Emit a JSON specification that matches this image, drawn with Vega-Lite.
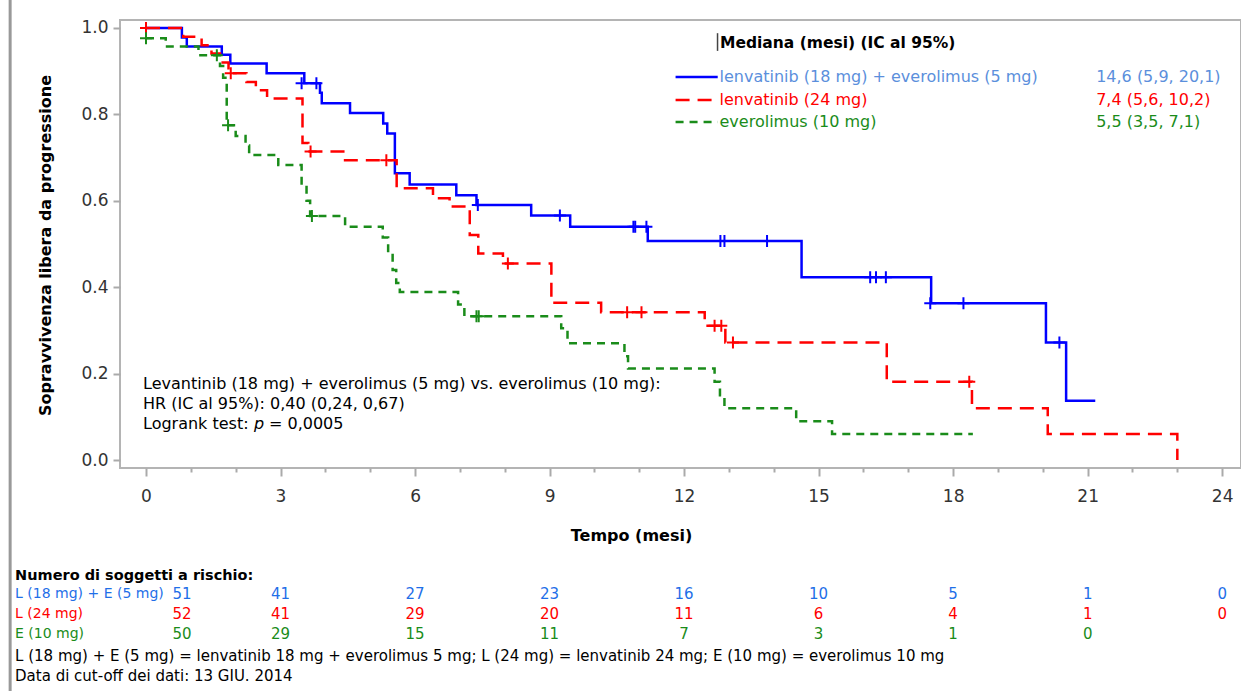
{
  "$schema": "https://vega.github.io/schema/vega-lite/v6.json",
  "width": 1121,
  "height": 448,
  "autosize": {"type": "none"},
  "padding": {"left": 120, "top": 20, "right": 0, "bottom": 223},
  "background": "white",
  "config": {
    "font": "DejaVu Sans",
    "view": {"stroke": "#b4b4b4", "strokeWidth": 2},
    "text": {"font": "DejaVu Sans"}
  },
  "data": {"values": [{}]},
  "datasets": {
    "km": [
      {"arm": "LE", "t": 0, "s": 1.0}, {"arm": "LE", "t": 0.80, "s": 0.978}, {"arm": "LE", "t": 0.91, "s": 0.957},
      {"arm": "LE", "t": 1.69, "s": 0.938}, {"arm": "LE", "t": 1.88, "s": 0.918}, {"arm": "LE", "t": 2.69, "s": 0.895},
      {"arm": "LE", "t": 3.53, "s": 0.872}, {"arm": "LE", "t": 3.88, "s": 0.850}, {"arm": "LE", "t": 3.92, "s": 0.826},
      {"arm": "LE", "t": 4.55, "s": 0.803}, {"arm": "LE", "t": 5.29, "s": 0.779}, {"arm": "LE", "t": 5.38, "s": 0.756},
      {"arm": "LE", "t": 5.55, "s": 0.664}, {"arm": "LE", "t": 5.88, "s": 0.638}, {"arm": "LE", "t": 6.92, "s": 0.613},
      {"arm": "LE", "t": 7.37, "s": 0.590}, {"arm": "LE", "t": 8.59, "s": 0.566}, {"arm": "LE", "t": 9.46, "s": 0.540},
      {"arm": "LE", "t": 11.19, "s": 0.507}, {"arm": "LE", "t": 14.62, "s": 0.423}, {"arm": "LE", "t": 17.51, "s": 0.363},
      {"arm": "LE", "t": 20.07, "s": 0.272}, {"arm": "LE", "t": 20.52, "s": 0.137}, {"arm": "LE", "t": 21.17, "s": 0.137},
      {"arm": "L", "t": 0, "s": 1.0}, {"arm": "L", "t": 0.83, "s": 0.980}, {"arm": "L", "t": 1.24, "s": 0.960},
      {"arm": "L", "t": 1.46, "s": 0.941}, {"arm": "L", "t": 1.65, "s": 0.920}, {"arm": "L", "t": 1.84, "s": 0.895},
      {"arm": "L", "t": 2.24, "s": 0.875}, {"arm": "L", "t": 2.45, "s": 0.856}, {"arm": "L", "t": 2.70, "s": 0.837},
      {"arm": "L", "t": 3.49, "s": 0.734}, {"arm": "L", "t": 3.62, "s": 0.714}, {"arm": "L", "t": 4.40, "s": 0.694},
      {"arm": "L", "t": 5.59, "s": 0.629}, {"arm": "L", "t": 6.40, "s": 0.606}, {"arm": "L", "t": 6.77, "s": 0.587},
      {"arm": "L", "t": 7.22, "s": 0.521}, {"arm": "L", "t": 7.41, "s": 0.478}, {"arm": "L", "t": 7.96, "s": 0.455},
      {"arm": "L", "t": 9.04, "s": 0.364}, {"arm": "L", "t": 10.15, "s": 0.342}, {"arm": "L", "t": 12.46, "s": 0.311},
      {"arm": "L", "t": 12.92, "s": 0.272}, {"arm": "L", "t": 16.52, "s": 0.181}, {"arm": "L", "t": 18.42, "s": 0.120},
      {"arm": "L", "t": 20.11, "s": 0.060}, {"arm": "L", "t": 23.00, "s": 0.0},
      {"arm": "E", "t": 0, "s": 0.976}, {"arm": "E", "t": 0.44, "s": 0.957}, {"arm": "E", "t": 1.17, "s": 0.937},
      {"arm": "E", "t": 1.65, "s": 0.912}, {"arm": "E", "t": 1.72, "s": 0.885}, {"arm": "E", "t": 1.80, "s": 0.775},
      {"arm": "E", "t": 2.00, "s": 0.750}, {"arm": "E", "t": 2.22, "s": 0.728}, {"arm": "E", "t": 2.30, "s": 0.706},
      {"arm": "E", "t": 2.95, "s": 0.683}, {"arm": "E", "t": 3.47, "s": 0.640}, {"arm": "E", "t": 3.58, "s": 0.600},
      {"arm": "E", "t": 3.66, "s": 0.565}, {"arm": "E", "t": 4.44, "s": 0.540}, {"arm": "E", "t": 5.28, "s": 0.515},
      {"arm": "E", "t": 5.40, "s": 0.480}, {"arm": "E", "t": 5.50, "s": 0.440}, {"arm": "E", "t": 5.58, "s": 0.410},
      {"arm": "E", "t": 5.66, "s": 0.389}, {"arm": "E", "t": 6.96, "s": 0.360}, {"arm": "E", "t": 7.10, "s": 0.333},
      {"arm": "E", "t": 9.26, "s": 0.305}, {"arm": "E", "t": 9.40, "s": 0.270}, {"arm": "E", "t": 10.67, "s": 0.240},
      {"arm": "E", "t": 10.75, "s": 0.212}, {"arm": "E", "t": 12.68, "s": 0.181}, {"arm": "E", "t": 12.80, "s": 0.150},
      {"arm": "E", "t": 12.90, "s": 0.120}, {"arm": "E", "t": 14.50, "s": 0.090}, {"arm": "E", "t": 15.30, "s": 0.060},
      {"arm": "E", "t": 18.44, "s": 0.060}
    ],
    "censor": [
      {"arm": "LE", "t": 3.47, "s": 0.872}, {"arm": "LE", "t": 3.80, "s": 0.872}, {"arm": "LE", "t": 7.40, "s": 0.590},
      {"arm": "LE", "t": 9.23, "s": 0.566}, {"arm": "LE", "t": 10.87, "s": 0.540}, {"arm": "LE", "t": 10.91, "s": 0.540},
      {"arm": "LE", "t": 11.16, "s": 0.540}, {"arm": "LE", "t": 12.81, "s": 0.507}, {"arm": "LE", "t": 12.90, "s": 0.507},
      {"arm": "LE", "t": 13.85, "s": 0.507}, {"arm": "LE", "t": 16.15, "s": 0.423}, {"arm": "LE", "t": 16.28, "s": 0.423},
      {"arm": "LE", "t": 16.50, "s": 0.423}, {"arm": "LE", "t": 17.49, "s": 0.363}, {"arm": "LE", "t": 18.23, "s": 0.363},
      {"arm": "LE", "t": 20.37, "s": 0.272},
      {"arm": "L", "t": 0, "s": 1.0}, {"arm": "L", "t": 1.89, "s": 0.895}, {"arm": "L", "t": 3.67, "s": 0.714},
      {"arm": "L", "t": 5.36, "s": 0.694}, {"arm": "L", "t": 8.07, "s": 0.455}, {"arm": "L", "t": 10.73, "s": 0.342},
      {"arm": "L", "t": 11.05, "s": 0.342}, {"arm": "L", "t": 12.68, "s": 0.311}, {"arm": "L", "t": 12.83, "s": 0.311},
      {"arm": "L", "t": 13.09, "s": 0.272}, {"arm": "L", "t": 18.36, "s": 0.181},
      {"arm": "E", "t": 0, "s": 0.976}, {"arm": "E", "t": 1.58, "s": 0.937}, {"arm": "E", "t": 1.83, "s": 0.775},
      {"arm": "E", "t": 3.70, "s": 0.565}, {"arm": "E", "t": 7.37, "s": 0.333}, {"arm": "E", "t": 7.42, "s": 0.333}
    ],
    "risk": [
      {"arm": "LE", "t": 0, "n": 51}, {"arm": "LE", "t": 3, "n": 41}, {"arm": "LE", "t": 6, "n": 27},
      {"arm": "LE", "t": 9, "n": 23}, {"arm": "LE", "t": 12, "n": 16}, {"arm": "LE", "t": 15, "n": 10},
      {"arm": "LE", "t": 18, "n": 5}, {"arm": "LE", "t": 21, "n": 1}, {"arm": "LE", "t": 24, "n": 0},
      {"arm": "L", "t": 0, "n": 52}, {"arm": "L", "t": 3, "n": 41}, {"arm": "L", "t": 6, "n": 29},
      {"arm": "L", "t": 9, "n": 20}, {"arm": "L", "t": 12, "n": 11}, {"arm": "L", "t": 15, "n": 6},
      {"arm": "L", "t": 18, "n": 4}, {"arm": "L", "t": 21, "n": 1}, {"arm": "L", "t": 24, "n": 0},
      {"arm": "E", "t": 0, "n": 50}, {"arm": "E", "t": 3, "n": 29}, {"arm": "E", "t": 6, "n": 15},
      {"arm": "E", "t": 9, "n": 11}, {"arm": "E", "t": 12, "n": 7}, {"arm": "E", "t": 15, "n": 3},
      {"arm": "E", "t": 18, "n": 1}, {"arm": "E", "t": 21, "n": 0}
    ]
  },
  "layer": [
    {
      "data": {"name": "km"},
      "mark": {"type": "line", "interpolate": "step-after", "strokeWidth": 2.5},
      "encoding": {
        "x": {
          "field": "t", "type": "quantitative",
          "scale": {"domain": [-0.58, 24.42], "nice": false, "zero": false},
          "axis": {
            "values": [0,1,2,3,4,5,6,7,8,9,10,11,12,13,14,15,16,17,18,19,20,21,22,23,24],
            "labelExpr": "datum.value % 3 === 0 ? datum.label : ''",
            "tickSize": {"condition": {"test": "datum.value % 3 === 0", "value": 8}, "value": 4},
            "tickColor": "#aaaaaa", "tickWidth": 2,
            "labelFontSize": 17, "labelColor": "#333333", "labelPadding": 12,
            "labelFlush": false, "labelOverlap": false,
            "domain": false, "grid": false,
            "title": "Tempo (mesi)", "titleFontSize": 16, "titleFontWeight": "bold", "titleColor": "#000000",
            "titleX": 511, "titleY": 67, "titleBaseline": "middle"
          }
        },
        "y": {
          "field": "s", "type": "quantitative",
          "scale": {"domain": [-0.0185, 1.0185], "nice": false, "zero": false},
          "axis": {
            "values": [0, 0.2, 0.4, 0.6, 0.8, 1.0], "format": ".1f",
            "tickSize": 7, "tickColor": "#aaaaaa", "tickWidth": 2,
            "labelFontSize": 17, "labelColor": "#333333", "labelPadding": 5,
            "domain": false, "grid": false,
            "title": "Sopravvivenza libera da progressione", "titleFontSize": 16, "titleFontWeight": "bold",
            "titleColor": "#000000", "titleX": -75, "titleY": 225, "titleBaseline": "middle"
          }
        },
        "color": {"field": "arm", "type": "nominal", "scale": {"domain": ["LE", "L", "E"], "range": ["#0000ff", "#ff0000", "#1a8c1a"]}, "legend": null},
        "strokeDash": {"field": "arm", "type": "nominal", "scale": {"domain": ["LE", "L", "E"], "range": [[1, 0], [14, 8], [8, 6]]}, "legend": null}
      }
    },
    {
      "data": {"name": "censor"},
      "mark": {"type": "point", "shape": "M-1,0H1M0,-1V1", "size": 144, "strokeWidth": 2, "filled": false, "opacity": 1},
      "encoding": {
        "x": {"field": "t", "type": "quantitative"},
        "y": {"field": "s", "type": "quantitative"},
        "color": {"field": "arm", "type": "nominal", "scale": {"domain": ["LE", "L", "E"], "range": ["#0000ff", "#ff0000", "#1a8c1a"]}, "legend": null}
      }
    },
    {
      "mark": {"type": "rule", "color": "#999999", "strokeWidth": 3},
      "encoding": {"x": {"datum": -3.03, "type": "quantitative"}, "y": {"datum": 1.07, "type": "quantitative"}, "y2": {"datum": -0.54}}
    },
    {
      "mark": {"type": "rule", "color": "#444444", "strokeWidth": 1.5},
      "encoding": {"x": {"datum": 12.746, "type": "quantitative"}, "y": {"datum": 0.988, "type": "quantitative"}, "y2": {"datum": 0.947}}
    },
    {
      "mark": {"type": "text", "align": "left", "baseline": "middle", "fontSize": 15.5, "fontWeight": "bold", "color": "#000000"},
      "encoding": {"x": {"datum": 12.80, "type": "quantitative"}, "y": {"datum": 0.9653, "type": "quantitative"}, "text": {"value": "Mediana (mesi) (IC al 95%)"}}
    },
    {
      "mark": {"type": "rule", "color": "#0000ff", "strokeWidth": 2.5},
      "encoding": {"x": {"datum": 11.81, "type": "quantitative"}, "x2": {"datum": 12.75}, "y": {"datum": 0.8866, "type": "quantitative"}}
    },
    {
      "mark": {"type": "rule", "color": "#ff0000", "strokeWidth": 2.5, "strokeDash": [14, 8]},
      "encoding": {"x": {"datum": 11.81, "type": "quantitative"}, "x2": {"datum": 12.75}, "y": {"datum": 0.8333, "type": "quantitative"}}
    },
    {
      "mark": {"type": "rule", "color": "#1a8c1a", "strokeWidth": 2.5, "strokeDash": [8, 6]},
      "encoding": {"x": {"datum": 11.81, "type": "quantitative"}, "x2": {"datum": 12.75}, "y": {"datum": 0.7824, "type": "quantitative"}}
    },
    {
      "mark": {"type": "text", "align": "left", "baseline": "middle", "fontSize": 16, "color": "#5b8fdc"},
      "encoding": {"x": {"datum": 12.79, "type": "quantitative"}, "y": {"datum": 0.8866, "type": "quantitative"}, "text": {"value": "lenvatinib (18 mg) + everolimus (5 mg)"}}
    },
    {
      "mark": {"type": "text", "align": "left", "baseline": "middle", "fontSize": 16, "color": "#ff0000"},
      "encoding": {"x": {"datum": 12.79, "type": "quantitative"}, "y": {"datum": 0.8333, "type": "quantitative"}, "text": {"value": "lenvatinib (24 mg)"}}
    },
    {
      "mark": {"type": "text", "align": "left", "baseline": "middle", "fontSize": 16, "color": "#1a8c1a"},
      "encoding": {"x": {"datum": 12.79, "type": "quantitative"}, "y": {"datum": 0.7824, "type": "quantitative"}, "text": {"value": "everolimus (10 mg)"}}
    },
    {
      "mark": {"type": "text", "align": "left", "baseline": "middle", "fontSize": 16, "color": "#5b8fdc"},
      "encoding": {"x": {"datum": 21.19, "type": "quantitative"}, "y": {"datum": 0.8866, "type": "quantitative"}, "text": {"value": "14,6 (5,9, 20,1)"}}
    },
    {
      "mark": {"type": "text", "align": "left", "baseline": "middle", "fontSize": 16, "color": "#ff0000"},
      "encoding": {"x": {"datum": 21.19, "type": "quantitative"}, "y": {"datum": 0.8333, "type": "quantitative"}, "text": {"value": "7,4 (5,6, 10,2)"}}
    },
    {
      "mark": {"type": "text", "align": "left", "baseline": "middle", "fontSize": 16, "color": "#1a8c1a"},
      "encoding": {"x": {"datum": 21.19, "type": "quantitative"}, "y": {"datum": 0.7824, "type": "quantitative"}, "text": {"value": "5,5 (3,5, 7,1)"}}
    },
    {
      "mark": {"type": "text", "align": "left", "baseline": "middle", "fontSize": 16, "color": "#000000"},
      "encoding": {"x": {"datum": -0.067, "type": "quantitative"}, "y": {"datum": 0.1759, "type": "quantitative"}, "text": {"value": "Levantinib (18 mg) + everolimus (5 mg) vs. everolimus (10 mg):"}}
    },
    {
      "mark": {"type": "text", "align": "left", "baseline": "middle", "fontSize": 16, "color": "#000000"},
      "encoding": {"x": {"datum": -0.067, "type": "quantitative"}, "y": {"datum": 0.1296, "type": "quantitative"}, "text": {"value": "HR (IC al 95%): 0,40 (0,24, 0,67)"}}
    },
    {
      "mark": {"type": "text", "align": "left", "baseline": "middle", "fontSize": 16, "color": "#000000"},
      "encoding": {"x": {"datum": -0.067, "type": "quantitative"}, "y": {"datum": 0.0833, "type": "quantitative"}, "text": {"value": "Logrank test:"}}
    },
    {
      "mark": {"type": "text", "align": "left", "baseline": "middle", "fontSize": 16, "fontStyle": "italic", "color": "#000000", "dx": 111},
      "encoding": {"x": {"datum": -0.067, "type": "quantitative"}, "y": {"datum": 0.0833, "type": "quantitative"}, "text": {"value": "p"}}
    },
    {
      "mark": {"type": "text", "align": "left", "baseline": "middle", "fontSize": 16, "color": "#000000", "dx": 126},
      "encoding": {"x": {"datum": -0.067, "type": "quantitative"}, "y": {"datum": 0.0833, "type": "quantitative"}, "text": {"value": "= 0,0005"}}
    },
    {
      "mark": {"type": "text", "align": "left", "baseline": "middle", "fontSize": 14.5, "fontWeight": "bold", "color": "#000000"},
      "encoding": {"x": {"datum": -2.92, "type": "quantitative"}, "y": {"datum": -0.2685, "type": "quantitative"}, "text": {"value": "Numero di soggetti a rischio:"}}
    },
    {
      "mark": {"type": "text", "align": "left", "baseline": "middle", "fontSize": 14, "color": "#1f6fe8"},
      "encoding": {"x": {"datum": -2.92, "type": "quantitative"}, "y": {"datum": -0.3102, "type": "quantitative"}, "text": {"value": "L (18 mg) + E (5 mg)"}}
    },
    {
      "mark": {"type": "text", "align": "left", "baseline": "middle", "fontSize": 14, "color": "#ff0000"},
      "encoding": {"x": {"datum": -2.92, "type": "quantitative"}, "y": {"datum": -0.3565, "type": "quantitative"}, "text": {"value": "L (24 mg)"}}
    },
    {
      "mark": {"type": "text", "align": "left", "baseline": "middle", "fontSize": 14, "color": "#1a8c1a"},
      "encoding": {"x": {"datum": -2.92, "type": "quantitative"}, "y": {"datum": -0.4028, "type": "quantitative"}, "text": {"value": "E (10 mg)"}}
    },
    {
      "data": {"name": "risk"},
      "transform": [{"filter": "datum.arm === 'LE' && datum.t > 0"}],
      "mark": {"type": "text", "align": "center", "baseline": "middle", "fontSize": 15, "color": "#1f6fe8"},
      "encoding": {"x": {"field": "t", "type": "quantitative"}, "y": {"datum": -0.3102, "type": "quantitative"}, "text": {"field": "n", "type": "quantitative"}}
    },
    {
      "data": {"name": "risk"},
      "transform": [{"filter": "datum.arm === 'LE' && datum.t === 0"}],
      "mark": {"type": "text", "align": "center", "baseline": "middle", "fontSize": 15, "color": "#1f6fe8", "dx": 36},
      "encoding": {"x": {"field": "t", "type": "quantitative"}, "y": {"datum": -0.3102, "type": "quantitative"}, "text": {"field": "n", "type": "quantitative"}}
    },
    {
      "data": {"name": "risk"},
      "transform": [{"filter": "datum.arm === 'L' && datum.t > 0"}],
      "mark": {"type": "text", "align": "center", "baseline": "middle", "fontSize": 15, "color": "#ff0000"},
      "encoding": {"x": {"field": "t", "type": "quantitative"}, "y": {"datum": -0.3565, "type": "quantitative"}, "text": {"field": "n", "type": "quantitative"}}
    },
    {
      "data": {"name": "risk"},
      "transform": [{"filter": "datum.arm === 'L' && datum.t === 0"}],
      "mark": {"type": "text", "align": "center", "baseline": "middle", "fontSize": 15, "color": "#ff0000", "dx": 36},
      "encoding": {"x": {"field": "t", "type": "quantitative"}, "y": {"datum": -0.3565, "type": "quantitative"}, "text": {"field": "n", "type": "quantitative"}}
    },
    {
      "data": {"name": "risk"},
      "transform": [{"filter": "datum.arm === 'E' && datum.t > 0"}],
      "mark": {"type": "text", "align": "center", "baseline": "middle", "fontSize": 15, "color": "#1a8c1a"},
      "encoding": {"x": {"field": "t", "type": "quantitative"}, "y": {"datum": -0.4028, "type": "quantitative"}, "text": {"field": "n", "type": "quantitative"}}
    },
    {
      "data": {"name": "risk"},
      "transform": [{"filter": "datum.arm === 'E' && datum.t === 0"}],
      "mark": {"type": "text", "align": "center", "baseline": "middle", "fontSize": 15, "color": "#1a8c1a", "dx": 36},
      "encoding": {"x": {"field": "t", "type": "quantitative"}, "y": {"datum": -0.4028, "type": "quantitative"}, "text": {"field": "n", "type": "quantitative"}}
    },
    {
      "mark": {"type": "text", "align": "left", "baseline": "middle", "fontSize": 15, "color": "#000000"},
      "encoding": {"x": {"datum": -2.92, "type": "quantitative"}, "y": {"datum": -0.4537, "type": "quantitative"}, "text": {"value": "L (18 mg) + E (5 mg) = lenvatinib 18 mg + everolimus 5 mg; L (24 mg) = lenvatinib 24 mg; E (10 mg) = everolimus 10 mg"}}
    },
    {
      "mark": {"type": "text", "align": "left", "baseline": "middle", "fontSize": 15, "color": "#000000"},
      "encoding": {"x": {"datum": -2.92, "type": "quantitative"}, "y": {"datum": -0.5, "type": "quantitative"}, "text": {"value": "Data di cut-off dei dati: 13 GIU. 2014"}}
    }
  ]
}
